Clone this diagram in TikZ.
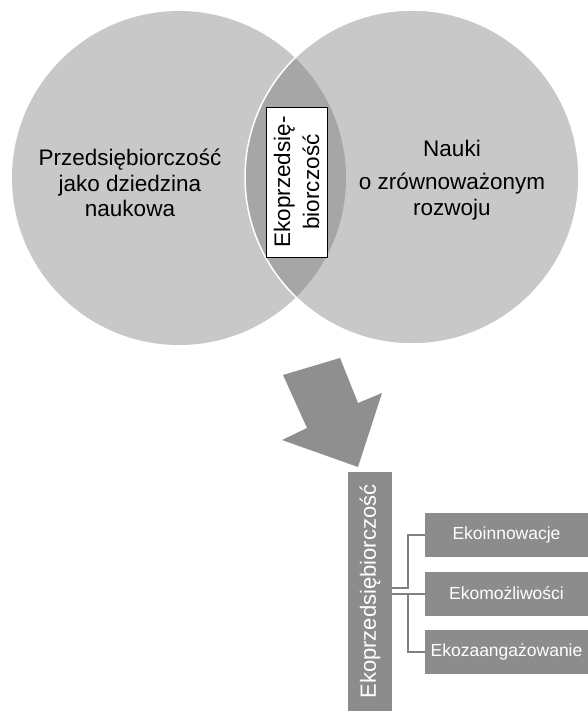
\documentclass[tikz,border=0pt]{standalone}
\usepackage{fontspec}
\setmainfont{Liberation Sans}
\usetikzlibrary{calc}
\definecolor{circfill}{HTML}{C8C8C8}
\definecolor{lensfill}{HTML}{A6A6A6}
\definecolor{boxfill}{HTML}{8C8C8C}
\definecolor{arrowfill}{HTML}{8F8F8F}
\definecolor{linecol}{HTML}{808080}
\begin{document}
\begin{tikzpicture}[x=1pt,y=-1pt,
  circ/.style={circle, minimum size=334pt, inner sep=0pt, fill=circfill},
  bigtxt/.style={align=center, inner sep=0pt, font=\fontsize{22.5}{25.5}\selectfont},
  ekobox/.style={rotate=90, draw=black, line width=0.8pt, fill=white, minimum width=150pt, minimum height=61pt, inner sep=0pt, align=center, font=\fontsize{22.5}{29}\selectfont},
  vbox/.style={rotate=90, fill=boxfill, text=white, minimum width=239pt, minimum height=44pt, inner sep=0pt, font=\fontsize{22}{26}\selectfont},
  hbox/.style={fill=boxfill, text=white, minimum width=163pt, minimum height=44pt, inner sep=0pt, font=\fontsize{17.5}{21}\selectfont},
  conn/.style={draw=linecol, line width=2pt}
]
\useasboundingbox (0,0) rectangle (588,711);
% Venn circles
\node[circ] (L) at (179,178) {};
\node[circ] (R) at (412,177) {};
\begin{scope}
  \clip (L.center) circle[radius=167pt];
  \fill[lensfill] (R.center) circle[radius=167pt];
\end{scope}
\draw[white, line width=1.5pt] (R.center) circle[radius=167pt];
% texts
\node[bigtxt] (Lt) at (130,183) {Przedsiębiorczość\\jako dziedzina\\naukowa};
\node[bigtxt] (Rt) at (452,180) {Nauki\\[8pt]o zrównoważonym\\rozwoju};
\node[ekobox] (E) at (296.5,182) {Ekoprzedsię-\\biorczość};
% big arrow
\fill[arrowfill] (283,375) -- (340,358) -- (358,403) -- (382,393) -- (358,467) -- (282,440) -- (307,428) -- cycle;
% hierarchy
\node[vbox] (V) at (370,591.5) {Ekoprzedsiębiorczość};
\node[hbox] (C1) at (506.5,535) {Ekoinnowacje};
\node[hbox] (C2) at (506.5,593.5) {Ekomożliwości};
\node[hbox] (C3) at (506.5,651.5) {Ekozaangażowanie};
\coordinate (P2) at (V.south |- C2.west);
\coordinate (P1) at ([yshift=6pt]P2);
\draw[conn] (P1) -- ++(16,0) |- (C1.west);
\draw[conn] (P2) -- (C2.west);
\draw[conn] (P2) -- ++(16,0) |- (C3.west);
\end{tikzpicture}
\end{document}
